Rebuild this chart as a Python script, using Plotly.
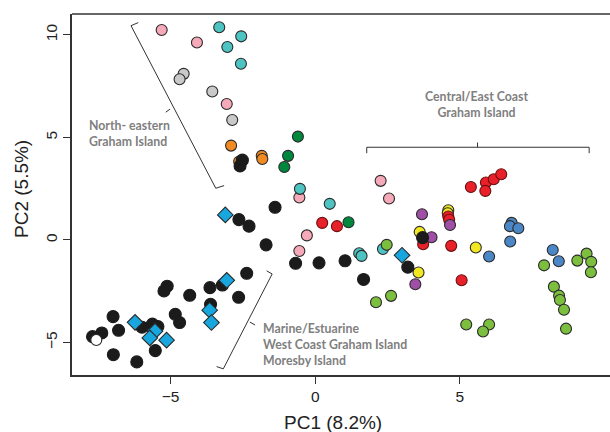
import plotly.graph_objects as go

# ---- data (PC1, PC2) per group ----
pink_x = [-5.31, -4.09, -3.06, -0.55, -0.29, -0.55, 2.26, 2.55]
pink_y = [10.24, 9.63, 6.63, 2.07, 0.22, -0.54, 2.88, 2.02]
cyan_x = [-3.32, -2.56, -3.04, -2.57, -0.53, 0.50, 1.52, 1.60, 2.34]
cyan_y = [10.37, 9.93, 9.41, 8.59, 2.49, 1.76, -0.65, -0.78, -0.44]
gray_x = [-4.55, -4.69, -3.56, -2.87]
gray_y = [8.10, 7.84, 7.24, 5.85]
orange_x = [-2.91, -1.85, -1.83, -2.63]
orange_y = [4.60, 4.10, 3.95, 3.82]
dgreen_x = [-0.60, -0.94, -1.07, 1.15]
dgreen_y = [5.04, 4.10, 3.56, 0.86]
red_x = [0.24, 0.75, 4.60, 4.63, 3.73, 4.70, 5.06, 5.38, 5.90, 6.17, 6.43, 5.88]
red_y = [0.83, 0.67, 1.14, 0.98, -0.21, -0.29, -1.97, 2.58, 2.80, 2.96, 3.20, 2.39]
yellow_x = [4.60, 4.58, 3.61, 5.55, 3.57]
yellow_y = [1.45, 1.30, 0.39, -0.37, -1.59]
purple_x = [3.69, 4.66, 4.02, 3.46]
purple_y = [1.25, 0.73, 0.13, -2.16]
blue_x = [6.79, 6.73, 7.02, 6.74, 6.01, 8.21, 8.42]
blue_y = [0.83, 0.67, 0.57, -0.08, -0.81, -0.49, -1.04]
lgreen_x = [2.47, 2.10, 2.62, 5.22, 6.01, 5.80, 7.91, 9.06, 9.38, 9.54, 9.53,
            8.25, 8.43, 8.46, 8.60, 8.67]
lgreen_y = [-0.24, -3.04, -2.73, -4.13, -4.13, -4.47, -1.24, -1.01, -0.67, -1.07, -1.58,
            -2.28, -2.72, -2.93, -3.41, -4.33]
black_x = [-2.52, -2.60, -1.39, -2.64, -2.29, -1.70, -0.68, 0.13, 1.03, 1.67, 3.20, 3.71,
           -2.37, -3.21, -3.64, -2.65, -4.34, -5.12, -5.23, -3.62, -4.84, -4.69, -6.99,
           -5.99, -5.63, -5.44, -6.80, -7.38, -7.70, -6.98, -6.17, -5.53]
black_y = [3.89, 3.61, 1.59, 0.99, 0.67, -0.24, -1.14, -1.12, -1.02, -1.93, -1.33, 0.11,
           -1.63, -2.20, -2.33, -2.80, -2.70, -2.26, -2.49, -3.14, -3.63, -4.03, -3.74,
           -4.26, -4.11, -4.23, -4.41, -4.54, -4.72, -5.60, -5.95, -5.40]
diamond_x = [-3.11, -3.06, -3.65, -3.59, -6.23, -5.54, -5.72, -5.14, 3.00]
diamond_y = [1.22, -1.97, -3.43, -4.03, -4.02, -4.45, -4.78, -4.89, -0.75]
white_x = [-7.57]
white_y = [-4.88]

x_ticks = [-5, 0, 5]
y_ticks = [-5, 0, 5, 10]

fig = go.Figure()

def circles(x, y, fill, edge="#2a2a2a", symbol="circle", size=11):
    fig.add_trace(go.Scatter(
        x=x, y=y, mode="markers",
        marker=dict(symbol=symbol, size=size, color=fill,
                    line=dict(color=edge, width=1.1)),
        hoverinfo="skip", showlegend=False))

circles(pink_x, pink_y, "#f6a9b8")
circles(cyan_x, cyan_y, "#4ec4c2")
circles(gray_x, gray_y, "#c9c9c9")
circles(orange_x, orange_y, "#f18b21")
circles(dgreen_x, dgreen_y, "#00873e")
circles(lgreen_x, lgreen_y, "#7cbf3f")
circles(blue_x, blue_y, "#4b87c6")
circles(yellow_x, yellow_y, "#f2e822")
circles(red_x, red_y, "#e8202a", edge="#6a1010")
circles(purple_x, purple_y, "#a04fa6")
circles(black_x, black_y, "#1b1b1b", edge="#1b1b1b", size=12)
circles(diamond_x, diamond_y, "#18a6df", symbol="diamond", size=12)
circles(white_x, white_y, "#ffffff", size=11)

line_col = "#333333"
# brackets (annotation shapes)
brackets = [
    # North-eastern
    [(-6.12, 10.60), (-6.37, 10.45), (-3.44, 2.52), (-3.15, 2.65)],
    [(-5.02, 6.38), (-5.17, 6.23)],
    # Marine
    [(-1.68, -1.51), (-1.49, -1.66), (-3.18, -6.29), (-3.41, -6.18)],
    [(-2.26, -4.01), (-2.08, -4.15)],
    # Central
    [(1.78, 4.23), (1.78, 4.52), (9.47, 4.52), (9.47, 4.23)],
    [(5.61, 4.52), (5.61, 4.75)],
]
for pts in brackets:
    path = "M " + " L ".join(f"{px},{py}" for px, py in pts)
    fig.add_shape(type="path", path=path, xref="x", yref="y",
                  line=dict(color=line_col, width=1), layer="above")

# top border line
fig.add_shape(type="line", xref="paper", yref="paper", x0=0, x1=1, y0=1, y1=1,
              line=dict(color=line_col, width=1.5))

lab_font = dict(family="Lato", size=12.3, color="#808080", weight="bold")
fig.add_annotation(text="North- eastern<br>Graham Island", x=87, y=134,
                   xref="paper", yref="paper", showarrow=False, align="left",
                   xanchor="left", yanchor="middle", font=lab_font)
fig.add_annotation(text="Central/East Coast<br>Graham Island", x=476, y=104,
                   xref="paper", yref="paper", showarrow=False, align="center",
                   xanchor="center", yanchor="middle", font=lab_font)
fig.add_annotation(text="Marine/Estuarine<br>West Coast Graham Island<br>Moresby Island",
                   x=261, y=344, xref="paper", yref="paper", showarrow=False,
                   align="left", xanchor="left", yanchor="middle", font=lab_font)

W, H = 610, 432
L, T, B, R = 72, 14, 57, 0
pw, ph = W - L - R, H - T - B
# convert pixel-positioned annotations to paper coordinates
for a in fig.layout.annotations:
    a.x = (a.x - L) / pw
    a.y = 1 - (a.y - T) / ph

ax_font = dict(family="Liberation Sans, Arial", size=19, color="#222222")
fig.add_annotation(text="PC1 (8.2%)", x=(333 - L) / pw, y=-(422 - H + B) / ph,
                   xref="paper", yref="paper", showarrow=False,
                   xanchor="center", yanchor="middle", font=ax_font)
fig.add_annotation(text="PC2 (5.5%)", x=-(L - 21) / pw, y=1 - (189 - T) / ph,
                   xref="paper", yref="paper", showarrow=False, textangle=-90,
                   xanchor="center", yanchor="middle", font=ax_font)

tick_font = dict(family="Liberation Sans, Arial", size=15.5, color="#222222")
fig.update_layout(
    width=W, height=H,
    margin=dict(l=L, r=R, t=T, b=B, pad=0),
    plot_bgcolor="white", paper_bgcolor="white",
    xaxis=dict(range=[-8.41, 10.19], tickvals=x_ticks, showgrid=False, zeroline=False,
               showline=True, linecolor=line_col, linewidth=1.5,
               ticks="outside", ticklen=7, tickcolor=line_col, tickwidth=1.2,
               tickfont=tick_font),
    yaxis=dict(range=[-6.59, 11.02], tickvals=y_ticks, showgrid=False, zeroline=False,
               showline=True, linecolor=line_col, linewidth=1.5,
               ticks="outside", ticklen=7, tickcolor=line_col, tickwidth=1.2,
               tickangle=-90, tickfont=tick_font),
)

fig.write_html("out.html")
